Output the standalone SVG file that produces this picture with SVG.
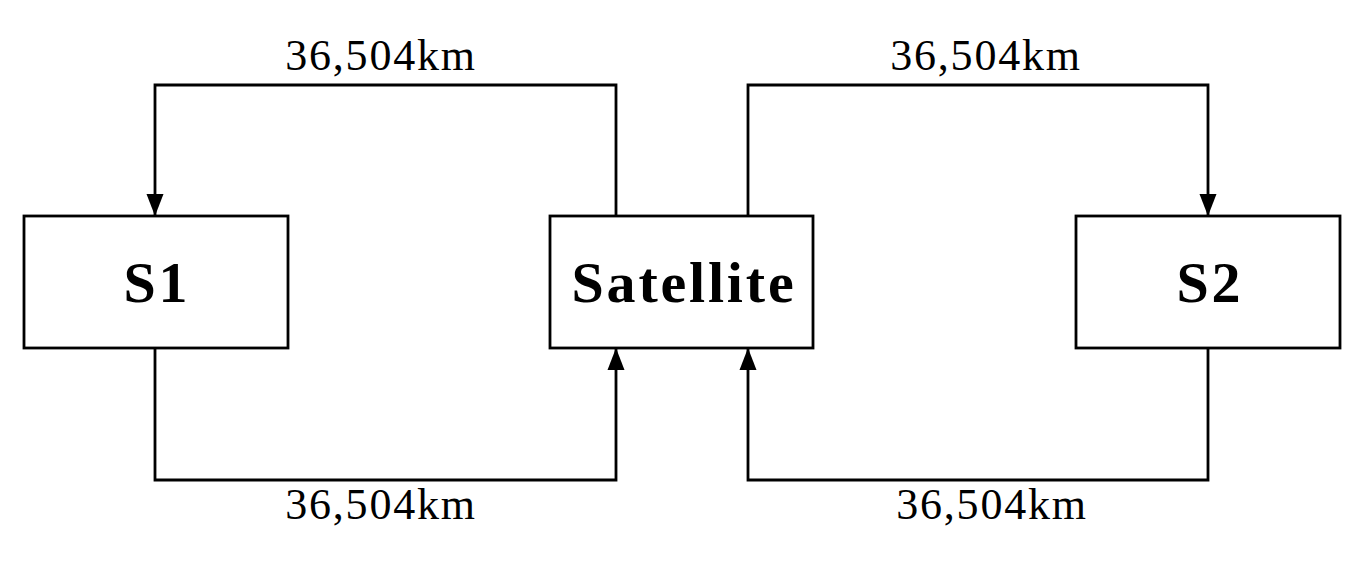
<svg xmlns="http://www.w3.org/2000/svg" width="1362" height="565" viewBox="0 0 1362 565">
<style>
.box{fill:#fff;stroke:#000;stroke-width:2.8}
.lbl{font-family:"Liberation Serif",serif;font-weight:bold;font-size:58px;text-anchor:middle;letter-spacing:2.8px}
.dist{font-family:"Liberation Serif",serif;font-size:44px;text-anchor:middle;letter-spacing:1.8px}
.con{fill:none;stroke:#000;stroke-width:2.8;marker-end:url(#arr)}
</style>
<defs>
<marker id="arr" viewBox="0 0 22 17" refX="22" refY="8.5" markerWidth="22" markerHeight="17" markerUnits="userSpaceOnUse" orient="auto" overflow="visible">
<path d="M0,0 L22,8.5 L0,17 Z" fill="#000"/>
</marker>
</defs>
<rect width="1362" height="565" fill="#fff"/>
<g id="connectors">
<path class="con" d="M616,216 V85 H155 V216"/>
<path class="con" d="M155,348 V480 H616 V348"/>
<path class="con" d="M748,216 V85 H1208 V216"/>
<path class="con" d="M1208,348 V480 H748 V348"/>
<text class="dist" x="381" y="70">36,504km</text>
<text class="dist" x="986" y="70">36,504km</text>
<text class="dist" x="381" y="519">36,504km</text>
<text class="dist" x="992" y="519">36,504km</text>
</g>
<g id="s1"><rect class="box" x="24" y="216" width="264" height="132"/><text class="lbl" x="157" y="302">S1</text></g>
<g id="satellite"><rect class="box" x="550" y="216" width="263" height="132"/><text class="lbl" x="684" y="302">Satellite</text></g>
<g id="s2"><rect class="box" x="1076" y="216" width="264" height="132"/><text class="lbl" x="1210" y="302">S2</text></g>
</svg>
